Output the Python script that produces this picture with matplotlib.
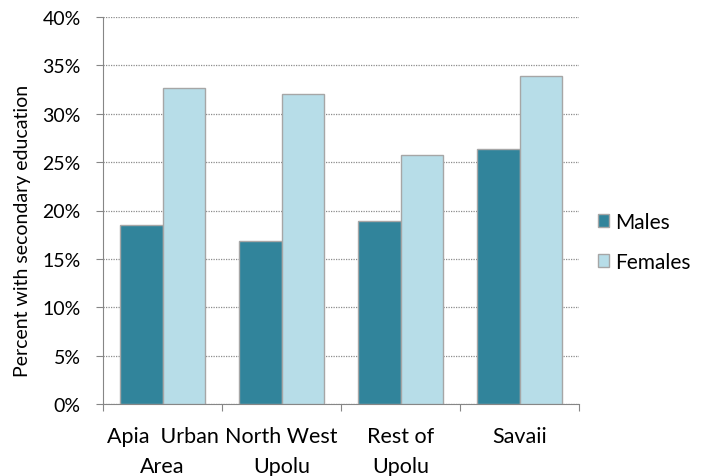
import matplotlib.pyplot as plt
import numpy as np
from matplotlib.patches import Patch

regions = ["Apia  Urban\nArea", "North West\nUpolu", "Rest of\nUpolu", "Savaii"]
males = [18.5, 16.8, 18.9, 26.4]
females = [32.7, 32.0, 25.7, 33.9]

MALE_COLOR = "#31849b"
FEMALE_COLOR = "#b7dde8"
EDGE = "#a6a6a6"

plt.rcParams["font.family"] = ["Lato", "DejaVu Sans"]

fig = plt.figure(figsize=(7.04, 4.77), dpi=100, facecolor="white")
ax = fig.add_axes([103 / 704, 1 - 405 / 477, (579 - 103) / 704, (405 - 18) / 477])

x = np.arange(len(regions))
w = 0.36
ax.bar(x - w / 2, males, w, color=MALE_COLOR, edgecolor=EDGE, linewidth=1, label="Males", zorder=3)
ax.bar(x + w / 2, females, w, color=FEMALE_COLOR, edgecolor=EDGE, linewidth=1, label="Females", zorder=3)

ax.set_xlim(-0.5, len(regions) - 0.5)
ax.set_ylim(0, 40)
ax.set_yticks(np.arange(0, 41, 5))
ax.set_yticklabels([f"{v}%" for v in range(0, 41, 5)])
ax.yaxis.grid(True, linestyle=(0, (1, 1)), color="#8c8c8c", linewidth=0.9, zorder=0)

# category labels between boundary ticks
ax.set_xticks(np.arange(-0.5, len(regions)), minor=False)
ax.set_xticklabels([])
ax.set_xticks(x, minor=True)
ax.set_xticklabels(regions, minor=True, fontsize=15.5, linespacing=1.6)
ax.tick_params(axis="x", which="minor", length=0, pad=16)
ax.tick_params(axis="x", which="major", length=5, color="#868686")
ax.tick_params(axis="y", length=5, color="#868686", labelsize=14, pad=11)

for s in ["top", "right"]:
    ax.spines[s].set_visible(False)
for s in ["left", "bottom"]:
    ax.spines[s].set_color("#868686")

ax.set_ylabel("Percent with secondary education", fontsize=14)
ax.yaxis.set_label_coords(-0.151, 0.45)

handles = [Patch(facecolor=MALE_COLOR, edgecolor=EDGE, label="Males"),
           Patch(facecolor=FEMALE_COLOR, edgecolor=EDGE, label="Females")]
fig.legend(handles=handles, loc="center left", bbox_to_anchor=(579 / 704, 1 - 243 / 477),
           frameon=False, fontsize=15, handlelength=0.55, handleheight=0.55,
           handletextpad=0.3, labelspacing=0.95)

fig.savefig("out.png", dpi=100)
